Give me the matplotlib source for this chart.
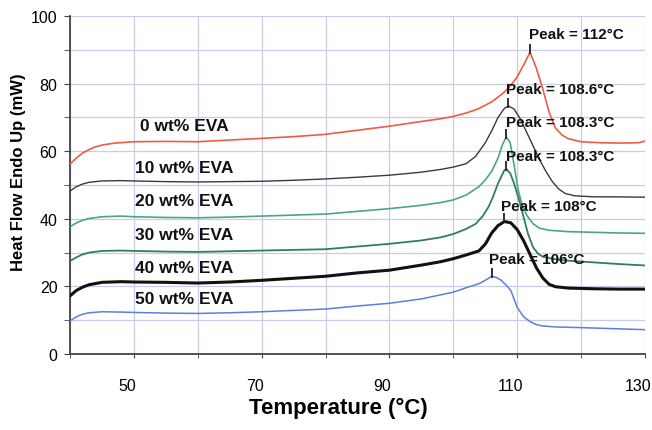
import matplotlib
matplotlib.use("Agg")
import matplotlib.pyplot as plt
import matplotlib.transforms as mtransforms
import numpy as np

plt.rcParams['font.family'] = ['Liberation Sans', 'DejaVu Sans']

# DSC curves: temperature (C) and heat flow (mW)
t_0 = [40, 41, 42, 43, 44, 45, 47, 50, 55, 60, 65, 70, 75, 80, 85, 90, 95, 98, 100, 102,
       104, 106, 107, 108, 109, 110, 111, 112, 113, 114, 115, 116, 117, 118, 120, 123,
       126, 129, 130]
hf_0 = [56.2, 58, 59.5, 60.5, 61.3, 61.8, 62.4, 62.8, 62.9, 62.8, 63.3, 63.8, 64.3, 65,
        66.2, 67.4, 68.8, 69.6, 70.3, 71.3, 72.6, 74.6, 76, 77.5, 79.5, 82, 85.5, 89.3,
        84.5, 78.4, 71.5, 66.8, 64.8, 63.7, 62.8, 62.5, 62.4, 62.5, 63]

t_10 = [40, 41, 42, 43, 45, 48, 50, 55, 60, 65, 70, 75, 80, 85, 90, 95, 98, 100, 102,
        103.5, 105, 106, 107, 108, 108.6, 109.5, 110.5, 111.5, 112.5, 113.5, 114.5,
        115.5, 116.5, 117.5, 119, 122, 125, 130]
hf_10 = [48.2, 49.5, 50.3, 50.8, 51.2, 51.3, 51.2, 51, 50.9, 51, 51.1, 51.4, 51.8, 52.3,
         52.9, 53.8, 54.6, 55.3, 56.3, 58.5, 62.5, 66, 70, 72.7, 73.4, 72.5, 69.5, 65.5,
         61.5, 57.5, 54, 51, 48.8, 47.5, 46.8, 46.5, 46.5, 46.4]

t_20 = [40, 41, 42, 43, 45, 48, 50, 55, 60, 65, 70, 75, 80, 85, 90, 95, 98, 100, 102,
        104, 105, 106, 107, 107.7, 108.3, 108.9, 109.5, 110.1, 110.7, 111.5, 112.5,
        113.5, 115, 118, 122, 126, 130]
hf_20 = [37.6, 38.8, 39.6, 40.1, 40.6, 40.8, 40.6, 40.4, 40.3, 40.5, 40.8, 41.1, 41.4,
         42.2, 43, 44, 44.8, 45.6, 47, 49.5, 51.5, 54, 58, 62, 64.2, 62.5, 56, 49, 44.5,
         41, 38.5, 37.2, 36.6, 36.2, 36, 35.8, 35.7]

t_30 = [40, 41, 42, 43, 45, 48, 50, 55, 60, 65, 70, 75, 80, 85, 90, 95, 98, 100, 102,
        103.5, 104.6, 105.5, 106.1, 107, 108, 108.3, 108.9, 109.5, 110.3, 111, 111.7,
        112.5, 113.3, 114, 116, 118, 122, 126, 130]
hf_30 = [27.5, 28.6, 29.5, 30, 30.5, 30.6, 30.5, 30.3, 30.2, 30.4, 30.6, 30.8, 31, 31.8,
         32.6, 33.6, 34.5, 35.5, 37, 38.5, 40.8, 43.5, 46, 50.5, 54.4, 54.7, 53.5, 50.5,
         45.5, 40.5, 35.5, 31.5, 29.6, 28.8, 28, 27.6, 27.1, 26.6, 26.2]

t_40 = [40, 41, 42, 43, 45, 48, 50, 55, 60, 65, 70, 75, 80, 85, 90, 95, 98, 100, 102,
        104, 105, 106, 107, 108, 109, 110, 111, 112, 113, 114, 115, 116, 118, 122, 126, 130]
hf_40 = [17.2, 18.8, 19.8, 20.5, 21.2, 21.4, 21.3, 21.2, 21, 21.3, 21.8, 22.4, 23, 24,
         24.8, 26.3, 27.3, 28.2, 29.3, 30.5, 32.5, 35.8, 38, 39.2, 38.8, 36.8, 33.5, 29.5,
         25.5, 22.5, 20.6, 19.9, 19.5, 19.3, 19.2, 19.2]

t_50 = [40, 41, 42, 43, 45, 48, 50, 55, 60, 65, 70, 75, 80, 85, 90, 95, 98, 100, 102,
        104, 105, 106, 106.8, 107.5, 108.2, 109, 110, 111, 112, 113, 114, 116, 120, 125, 130]
hf_50 = [9.8, 11, 11.8, 12.2, 12.5, 12.4, 12.3, 12.1, 12, 12.2, 12.5, 12.9, 13.3, 14.2,
         15, 16.3, 17.5, 18.3, 19.6, 20.8, 21.8, 23, 22.6, 21.8, 20.5, 18.8, 13.8, 11,
         9.6, 8.7, 8.3, 8, 7.8, 7.5, 7.2]

series_labels = ['0 wt% EVA', '10 wt% EVA', '20 wt% EVA', '30 wt% EVA', '40 wt% EVA', '50 wt% EVA']
label_t = [51, 50.2, 50.2, 50.2, 50.2, 50.2]
label_hf = [67.5, 55.3, 45.3, 35.5, 25.7, 16.3]

peak_t = [112, 108.6, 108.3, 108.3, 108, 106]
peak_hf = [89.3, 73.4, 64.2, 54.7, 39.2, 23.0]
peak_labels = ['Peak = 112°C', 'Peak = 108.6°C', 'Peak = 108.3°C',
               'Peak = 108.3°C', 'Peak = 108°C', 'Peak = 106°C']
peak_label_t = [111.8, 108.3, 108.3, 108.3, 107.5, 105.6]
peak_label_hf = [94.7, 78.4, 68.6, 58.6, 43.8, 28.1]

curves = [(t_0, hf_0, '#f05a48', 1.2),
          (t_10, hf_10, '#3a3a3a', 1.0),
          (t_20, hf_20, '#4aa58a', 1.2),
          (t_30, hf_30, '#2f7f5f', 1.3),
          (t_40, hf_40, '#111111', 2.2),
          (t_50, hf_50, '#5a7fe0', 1.1)]

fig = plt.figure(figsize=(6.52, 4.31), dpi=100)
ax = fig.add_axes([70/652, 1-355/431, 575/652, 338/431])

for t, hf, c, lw in curves:
    ax.plot(t, hf, color=c, lw=lw, zorder=3)

for i in range(len(series_labels)):
    ax.text(label_t[i], label_hf[i], series_labels[i], ha='left', va='center',
            fontsize=12.5, fontweight='bold', color='#111111', zorder=4)

ax.plot(peak_t, np.array(peak_hf) + 1.0, ls='none', marker='|', ms=7, mew=1.3,
        color='#222222', zorder=5)
for i in range(len(peak_labels)):
    ax.text(peak_label_t[i], peak_label_hf[i], peak_labels[i], ha='left', va='center',
            fontsize=11, fontweight='bold', color='#111111', zorder=4)

ax.set_xlim(40, 130)
ax.set_ylim(0, 100)
ax.set_xticks(np.arange(40, 131, 10), minor=True)
ax.set_xticks([50, 70, 90, 110, 130])
ax.set_yticks(np.arange(0, 101, 10), minor=True)
ax.set_yticks([0, 20, 40, 60, 80, 100])
ax.grid(True, which='both', color='#c8cce4', lw=0.9, zorder=0)
ax.tick_params(axis='x', which='both', length=3, pad=14, labelsize=11.5, color='#444444')
ax.tick_params(axis='y', which='both', length=4, pad=5, labelsize=11.5, color='#444444')
for s in ['top', 'right']:
    ax.spines[s].set_visible(False)
for s in ['left', 'bottom']:
    ax.spines[s].set_color('#444444')
    ax.spines[s].set_linewidth(1.3)

# x tick labels sit a little left of their ticks in the original
shift = mtransforms.ScaledTranslation(-7/100, 0, fig.dpi_scale_trans)
for lab in ax.get_xticklabels():
    lab.set_transform(lab.get_transform() + shift)

fig.text(338/652, 1-408/431, 'Temperature (°C)', ha='center', va='center',
         fontsize=16, fontweight='bold')
fig.text(19/652, 1-172/431, 'Heat Flow Endo Up (mW)', ha='center', va='center',
         rotation=90, fontsize=12, fontweight='bold')

fig.savefig('out.png', dpi=100)
